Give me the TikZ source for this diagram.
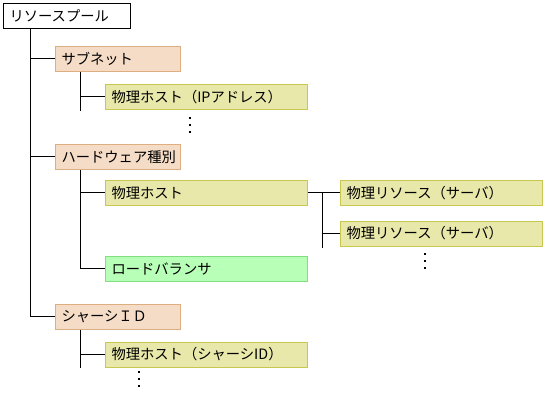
\documentclass[tikz,border=0pt]{standalone}
\usepackage{fontspec}
\setmainfont{Noto Sans CJK JP}
\begin{document}
\begin{tikzpicture}[x=1pt,y=-1pt,
  every node/.style={font=\fontsize{14.3}{16}\selectfont},
  base/.style={rectangle,anchor=north west,inner xsep=6pt,inner ysep=0pt,minimum height=25pt,align=left,line width=1pt},
  rootbox/.style={base,draw=black,fill=white,text width=127pt-12pt},
  catbox/.style={base,draw=catline,fill=catfill,text width=125pt-12pt},
  hostbox/.style={base,draw=hostline,fill=hostfill,text width=202pt-12pt},
  lbbox/.style={base,draw=lbline,fill=lbfill,text width=202pt-12pt},
  conn/.style={line width=1pt,black}
]
\definecolor{catfill}{HTML}{F5DCC6}
\definecolor{catline}{HTML}{DEAE80}
\definecolor{hostfill}{HTML}{E8E8AA}
\definecolor{hostline}{HTML}{C8C850}
\definecolor{lbfill}{HTML}{B8FFB8}
\definecolor{lbline}{HTML}{80E080}
\useasboundingbox (0,0) rectangle (545,403);

\node[rootbox] (root) at (3,3) {リソースプール};
\node[catbox] (subnet) at (55,46) {サブネット};
\node[hostbox] (iphost) at (105,84) {物理ホスト（IPアドレス）};
\node[catbox] (hw) at (55,144) {ハードウェア種別};
\node[hostbox] (hwhost) at (105,180) {物理ホスト};
\node[hostbox] (res1) at (340,180) {物理リソース（サーバ）};
\node[hostbox] (res2) at (340,220.5) {物理リソース（サーバ）};
\node[lbbox] (lb) at (105,255.5) {ロードバランサ};
\node[catbox] (chassis) at (55,303.5) {シャーシＩＤ};
\node[hostbox] (chhost) at (105,341.5) {物理ホスト（シャーシID）};

\coordinate (trunk) at (30,0);
\coordinate (sub1) at (80,0);
\coordinate (sub3) at (322,0);

% trunk
\draw[conn] (root.south -| trunk) |- (chassis.west);
\draw[conn] (subnet.west -| trunk) -- (subnet.west);
\draw[conn] (hw.west -| trunk) -- (hw.west);

% subnet children
\draw[conn] (subnet.south -| sub1) -- ([yshift=-1pt]iphost.south -| sub1);
\draw[conn] (iphost.west -| sub1) -- (iphost.west);

% hardware children
\draw[conn] (hw.south -| sub1) |- (lb.west);
\draw[conn] (hwhost.west -| sub1) -- (hwhost.west);
\draw[conn] (hwhost.east) -- (res1.west);
\draw[conn] (res1.west -| sub3) -- ([yshift=-1.5pt]res2.south -| sub3);
\draw[conn] (res2.west -| sub3) -- (res2.west);

% chassis children
\draw[conn] (chassis.south -| sub1) -- ([yshift=-0.5pt]chhost.south -| sub1);
\draw[conn] (chhost.west -| sub1) -- (chhost.west);

% vertical ellipses
\foreach \y in {117.5,124.5,131.5} \fill (189,\y) rectangle +(2,2);
\foreach \y in {252.5,259.5,266.5} \fill (424,\y) rectangle +(2,2);
\foreach \y in {371,378,385} \fill (138,\y) rectangle +(2,2);
\end{tikzpicture}
\end{document}
